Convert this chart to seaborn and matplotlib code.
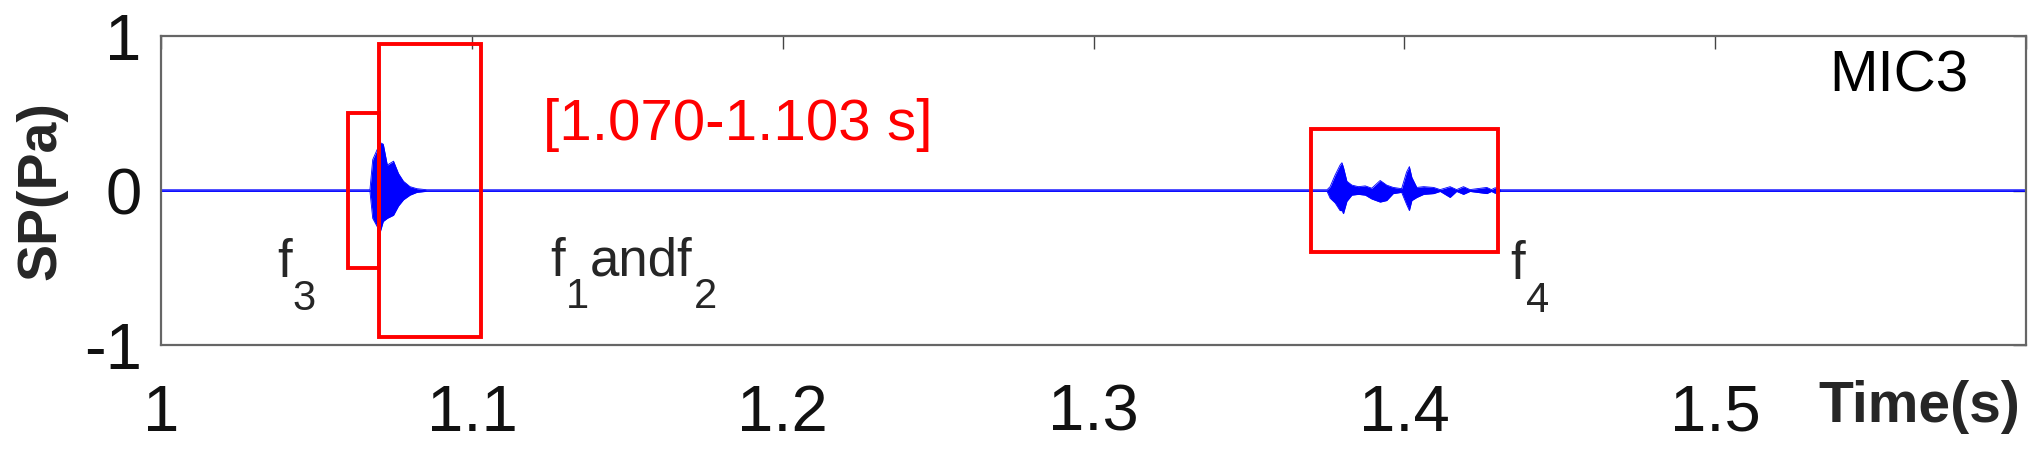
import matplotlib
matplotlib.use("Agg")
import matplotlib.pyplot as plt
from matplotlib.patches import Rectangle
import seaborn as sns

# ---- data ----
# sound-pressure envelope (upper / lower) of the MIC3 recording
sig_t = [1.0000, 1.0672, 1.0681, 1.0705, 1.0715, 1.0728, 1.0748, 1.0764,
         1.0780, 1.0801, 1.0823, 1.0855,
         1.3751, 1.3761, 1.3777, 1.3793, 1.3799, 1.3804, 1.3815, 1.3831,
         1.3852, 1.3874, 1.3895, 1.3922, 1.3943, 1.3964, 1.3991, 1.4007,
         1.4016, 1.4024, 1.4040, 1.4062, 1.4094, 1.4115, 1.4147, 1.4168,
         1.4190, 1.4211, 1.4265, 1.4280, 1.4292, 1.4310, 1.6000]
sig_hi = [0.005, 0.005, 0.200, 0.310, 0.300, 0.165, 0.190, 0.110,
          0.060, 0.025, 0.012, 0.005,
          0.005, 0.025, 0.100, 0.165, 0.180, 0.150, 0.060, 0.035,
          0.025, 0.030, 0.015, 0.065, 0.035, 0.020, 0.012, 0.120,
          0.155, 0.085, 0.020, 0.025, 0.020, 0.006, 0.025, 0.006,
          0.025, 0.006, 0.020, 0.006, 0.018, 0.005, 0.005]
sig_lo = [-0.005, -0.005, -0.180, -0.270, -0.200, -0.180, -0.160, -0.100,
          -0.060, -0.030, -0.012, -0.005,
          -0.005, -0.050, -0.080, -0.130, -0.130, -0.150, -0.070, -0.030,
          -0.025, -0.030, -0.055, -0.075, -0.065, -0.020, -0.012, -0.090,
          -0.130, -0.065, -0.045, -0.025, -0.020, -0.006, -0.045, -0.006,
          -0.025, -0.006, -0.020, -0.006, -0.018, -0.005, -0.005]

# highlighted windows: f3, f1/f2, f4
box_t0 = [1.060, 1.070, 1.370]
box_t1 = [1.070, 1.103, 1.430]
box_lo = [-0.50, -0.95, -0.40]
box_hi = [0.50, 0.95, 0.40]

x_ticks = [1.0, 1.1, 1.2, 1.3, 1.4, 1.5, 1.6]
x_labels = ["1", "1.1", "1.2", "1.3", "1.4", "1.5", ""]
y_ticks = [-1, 0, 1]
y_labels = ["-1", "0", "1"]

sns.set_style("white")
plt.rcParams["font.family"] = ["Liberation Sans", "DejaVu Sans"]

fig = plt.figure(figsize=(20.41, 4.54), dpi=100)
ax = fig.add_axes([0.0789, 0.240, 0.9138, 0.6807])

blue = "#0000ff"
sns.lineplot(x=sig_t, y=sig_hi, color=blue, linewidth=0.6, ax=ax)
sns.lineplot(x=sig_t, y=sig_lo, color=blue, linewidth=0.6, ax=ax)
ax.fill_between(sig_t, sig_lo, sig_hi, color=blue, linewidth=0)

for t0, t1, lo, hi in zip(box_t0, box_t1, box_lo, box_hi):
    ax.add_patch(Rectangle((t0, lo), t1 - t0, hi - lo, fill=False,
                           edgecolor="#ff0000", linewidth=2.8, zorder=5))


def sub_label(x, y, parts, size=38, subsize=30):
    # chain text pieces; subscripts hang below the baseline like MATLAB's
    base = ax.text(x, y, parts[0], fontsize=size, va="baseline")
    prev = base
    for i, piece in enumerate(parts[1:]):
        if i % 2 == 0:
            prev = ax.annotate(piece, xy=(1, 0), xycoords=(prev, base),
                               xytext=(0.5, 6.5), textcoords="offset points",
                               fontsize=subsize, ha="left", va="top")
        else:
            prev = ax.annotate(piece, xy=(1, 0), xycoords=(prev, base),
                               xytext=(1, 0), textcoords="offset points",
                               fontsize=size, ha="left", va="bottom")


ax.text(1.1229, 0.327, "[1.070-1.103 s]", color="#ff0000", fontsize=42,
        ha="left", va="baseline")
ax.text(1.5815, 0.638, "MIC3", color="black", fontsize=42,
        ha="right", va="baseline")
sub_label(1.0373, -0.56, ["f", "3"])
sub_label(1.1252, -0.55, ["f", "1", "andf", "2"])
sub_label(1.4340, -0.57, ["f", "4"])

ax.set_xlim(1.0, 1.6)
ax.set_ylim(-1, 1)
ax.set_xticks(x_ticks)
ax.set_xticklabels(x_labels)
ax.set_yticks(y_ticks)
ax.set_yticklabels(y_labels)

spine_col = "#666666"
for s in ax.spines.values():
    s.set_color(spine_col)
    s.set_linewidth(1.6)
ax.tick_params(direction="in", length=9.5, width=1.0, color="#444444",
               top=True, right=True, labelsize=47, labelcolor="#111111")
ax.tick_params(axis="x", pad=28)
ax.tick_params(axis="y", pad=14)

ax.set_ylabel("SP(Pa)", fontsize=40, fontweight="bold")
ax.yaxis.set_label_coords(-0.0504, 0.5)
ax.set_xlabel("Time(s)", fontsize=41, fontweight="bold", ha="center", va="top")
ax.xaxis.set_label_coords(0.943, -0.112)

fig.savefig("out.png", dpi=100)
